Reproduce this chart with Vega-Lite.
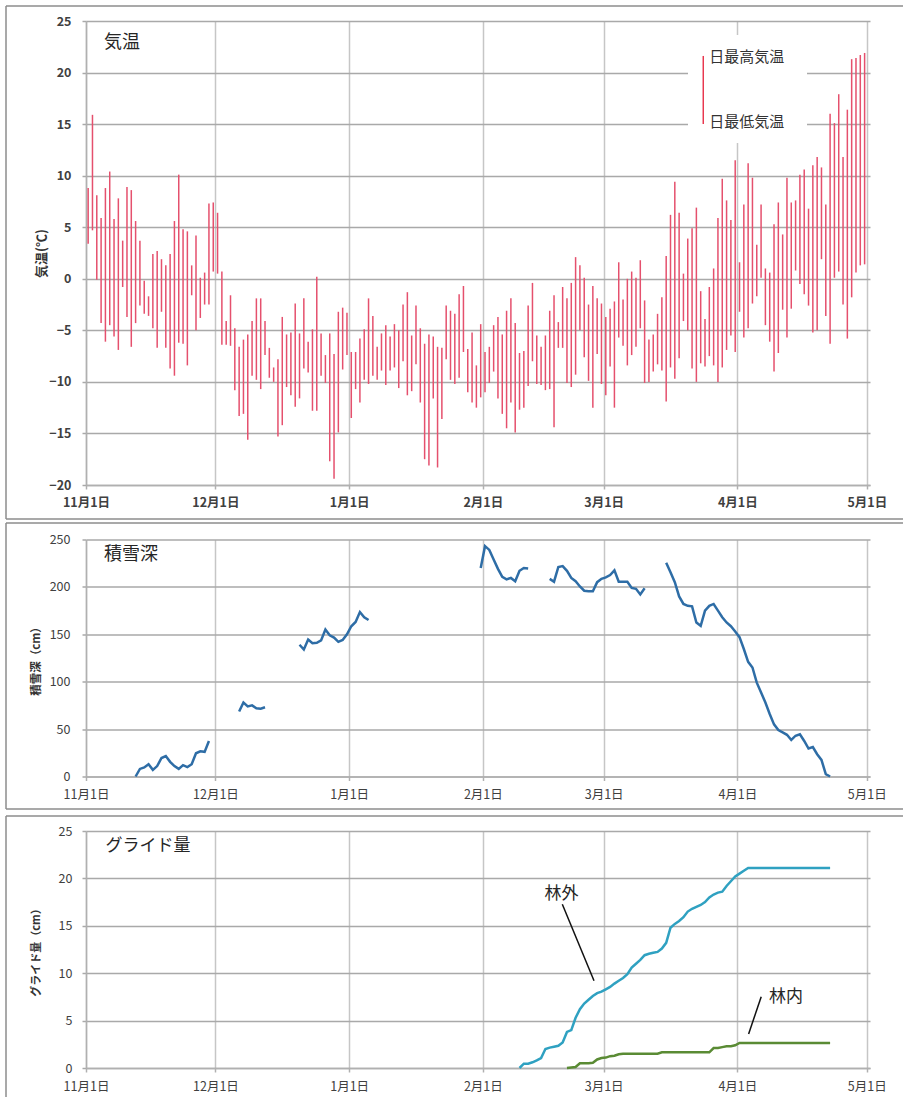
{
"$schema": "https://vega.github.io/schema/vega-lite/v6.json",
"padding": {"left": 5, "top": 5, "right": 0, "bottom": 0},
"background": "white",
"bounds": "flush",
"spacing": 54.5,
"config": {
  "font": "Noto Sans CJK JP",
  "view": {"stroke": null},
  "axis": {"labelFont": "Noto Sans CJK JP", "titleFont": "Noto Sans CJK JP", "labelColor": "#404040", "titleColor": "#333333", "domainColor": "#b0b0b0", "domainWidth": 1.5, "tickColor": "#b0b0b0", "tickSize": 4, "tickWidth": 1.5, "labelFlush": false, "labelOverlap": false, "labelFontSize": 12.5}
},
"datasets": {
  "temp": [
{"date":"2012-11-01","max":8.8,"min":3.4},{"date":"2012-11-02","max":15.9,"min":4.7},{"date":"2012-11-03","max":8.1,"min":-0.1},{"date":"2012-11-04","max":5.9,"min":-4.3},{"date":"2012-11-05","max":8.8,"min":-6.1},{"date":"2012-11-06","max":10.4,"min":-4.5},{"date":"2012-11-07","max":5.8,"min":-5.6},{"date":"2012-11-08","max":7.8,"min":-6.9},{"date":"2012-11-09","max":3.7,"min":-0.8},{"date":"2012-11-10","max":8.9,"min":-3.7},
{"date":"2012-11-11","max":8.6,"min":-6.6},{"date":"2012-11-12","max":5.6,"min":-4.3},{"date":"2012-11-13","max":3.7,"min":-2.6},{"date":"2012-11-14","max":-0.2,"min":-3.4},{"date":"2012-11-15","max":-1.7,"min":-3.6},{"date":"2012-11-16","max":2.4,"min":-4.8},{"date":"2012-11-17","max":2.7,"min":-6.7},{"date":"2012-11-18","max":1.9,"min":-3.2},{"date":"2012-11-19","max":1.3,"min":-6.7},{"date":"2012-11-20","max":2.4,"min":-8.7},
{"date":"2012-11-21","max":5.6,"min":-9.4},{"date":"2012-11-22","max":10.1,"min":-6.2},{"date":"2012-11-23","max":4.8,"min":-6.3},{"date":"2012-11-24","max":4.6,"min":-8.4},{"date":"2012-11-25","max":1.3,"min":-1.6},{"date":"2012-11-26","max":4.2,"min":-5.0},{"date":"2012-11-27","max":0.1,"min":-3.8},{"date":"2012-11-28","max":0.6,"min":-2.5},{"date":"2012-11-29","max":7.3,"min":-2.5},{"date":"2012-11-30","max":7.4,"min":0.7},
{"date":"2012-12-01","max":6.4,"min":0.5},{"date":"2012-12-02","max":0.7,"min":-6.4},{"date":"2012-12-03","max":-4.1,"min":-6.4},{"date":"2012-12-04","max":-1.6,"min":-6.5},{"date":"2012-12-05","max":-4.8,"min":-10.8},{"date":"2012-12-06","max":-6.6,"min":-13.3},{"date":"2012-12-07","max":-5.9,"min":-13.1},{"date":"2012-12-08","max":-5.4,"min":-15.6},{"date":"2012-12-09","max":-4.1,"min":-9.4},{"date":"2012-12-10","max":-1.9,"min":-9.8},
{"date":"2012-12-11","max":-1.9,"min":-10.7},{"date":"2012-12-12","max":-4.1,"min":-7.4},{"date":"2012-12-13","max":-6.7,"min":-9.6},{"date":"2012-12-14","max":-8.6,"min":-10.0},{"date":"2012-12-15","max":-7.8,"min":-15.3},{"date":"2012-12-16","max":-3.7,"min":-14.2},{"date":"2012-12-17","max":-5.4,"min":-10.5},{"date":"2012-12-18","max":-5.2,"min":-11.3},{"date":"2012-12-19","max":-2.4,"min":-12.4},{"date":"2012-12-20","max":-5.3,"min":-11.6},
{"date":"2012-12-21","max":-1.9,"min":-8.7},{"date":"2012-12-22","max":-6.1,"min":-9.1},{"date":"2012-12-23","max":-4.9,"min":-12.8},{"date":"2012-12-24","max":0.2,"min":-12.8},{"date":"2012-12-25","max":-5.3,"min":-9.4},{"date":"2012-12-26","max":-7.4,"min":-10.1},{"date":"2012-12-27","max":-5.3,"min":-17.7},{"date":"2012-12-28","max":-7.3,"min":-19.4},{"date":"2012-12-29","max":-3.2,"min":-14.9},{"date":"2012-12-30","max":-2.8,"min":-8.8},
{"date":"2012-12-31","max":-3.3,"min":-7.4},
{"date":"2013-01-01","max":-7.1,"min":-13.5},{"date":"2013-01-02","max":-7.1,"min":-10.7},{"date":"2013-01-03","max":-5.8,"min":-12.0},{"date":"2013-01-04","max":-4.9,"min":-9.8},{"date":"2013-01-05","max":-1.9,"min":-10.2},{"date":"2013-01-06","max":-3.6,"min":-9.4},{"date":"2013-01-07","max":-6.6,"min":-9.8},{"date":"2013-01-08","max":-5.3,"min":-8.9},{"date":"2013-01-09","max":-4.5,"min":-10.3},{"date":"2013-01-10","max":-5.6,"min":-8.9},
{"date":"2013-01-11","max":-4.4,"min":-8.6},{"date":"2013-01-12","max":-5.0,"min":-10.6},{"date":"2013-01-13","max":-2.5,"min":-8.0},{"date":"2013-01-14","max":-1.3,"min":-11.3},{"date":"2013-01-15","max":-5.5,"min":-10.9},{"date":"2013-01-16","max":-2.6,"min":-8.3},{"date":"2013-01-17","max":-4.8,"min":-12.0},{"date":"2013-01-18","max":-6.3,"min":-17.5},{"date":"2013-01-19","max":-5.4,"min":-18.1},{"date":"2013-01-20","max":-5.6,"min":-11.6},
{"date":"2013-01-21","max":-6.6,"min":-18.3},{"date":"2013-01-22","max":-6.7,"min":-13.6},{"date":"2013-01-23","max":-2.6,"min":-7.8},{"date":"2013-01-24","max":-3.1,"min":-9.8},{"date":"2013-01-25","max":-3.4,"min":-10.2},{"date":"2013-01-26","max":-1.5,"min":-9.6},{"date":"2013-01-27","max":-0.7,"min":-7.1},{"date":"2013-01-28","max":-6.8,"min":-11.0},{"date":"2013-01-29","max":-5.2,"min":-12.0},{"date":"2013-01-30","max":-8.4,"min":-12.5},
{"date":"2013-01-31","max":-4.4,"min":-11.5},
{"date":"2013-02-01","max":-7.1,"min":-11.0},{"date":"2013-02-02","max":-6.6,"min":-10.1},{"date":"2013-02-03","max":-4.5,"min":-9.0},{"date":"2013-02-04","max":-3.7,"min":-11.6},{"date":"2013-02-05","max":-5.4,"min":-13.1},{"date":"2013-02-06","max":-3.1,"min":-14.5},{"date":"2013-02-07","max":-1.9,"min":-12.0},{"date":"2013-02-08","max":-4.3,"min":-14.9},{"date":"2013-02-09","max":-7.2,"min":-12.7},{"date":"2013-02-10","max":-7.0,"min":-12.5},
{"date":"2013-02-11","max":-2.6,"min":-10.4},{"date":"2013-02-12","max":-0.4,"min":-8.0},{"date":"2013-02-13","max":-5.5,"min":-10.2},{"date":"2013-02-14","max":-6.6,"min":-10.3},{"date":"2013-02-15","max":-5.5,"min":-10.8},{"date":"2013-02-16","max":-3.1,"min":-10.7},{"date":"2013-02-17","max":-1.6,"min":-14.4},{"date":"2013-02-18","max":-4.2,"min":-6.7},{"date":"2013-02-19","max":-0.8,"min":-6.7},{"date":"2013-02-20","max":-1.9,"min":-10.1},
{"date":"2013-02-21","max":-0.4,"min":-10.5},{"date":"2013-02-22","max":2.1,"min":-9.3},{"date":"2013-02-23","max":1.3,"min":-5.0},{"date":"2013-02-24","max":0.1,"min":-7.6},{"date":"2013-02-25","max":-2.5,"min":-9.9},{"date":"2013-02-26","max":-0.7,"min":-12.5},{"date":"2013-02-27","max":-1.9,"min":-7.3},{"date":"2013-02-28","max":-2.4,"min":-10.2},
{"date":"2013-03-01","max":-3.7,"min":-11.3},{"date":"2013-03-02","max":-2.9,"min":-8.5},{"date":"2013-03-03","max":-2.2,"min":-12.5},{"date":"2013-03-04","max":1.6,"min":-5.7},{"date":"2013-03-05","max":-2.0,"min":-6.5},{"date":"2013-03-06","max":0.0,"min":-8.4},{"date":"2013-03-07","max":0.7,"min":-7.4},{"date":"2013-03-08","max":0.1,"min":-6.6},{"date":"2013-03-09","max":1.8,"min":-4.8},{"date":"2013-03-10","max":-2.1,"min":-10.1},
{"date":"2013-03-11","max":-5.9,"min":-10.0},{"date":"2013-03-12","max":-5.4,"min":-9.0},{"date":"2013-03-13","max":-3.4,"min":-8.3},{"date":"2013-03-14","max":-1.8,"min":-8.9},{"date":"2013-03-15","max":2.2,"min":-11.9},{"date":"2013-03-16","max":6.2,"min":-8.6},{"date":"2013-03-17","max":9.4,"min":-9.7},{"date":"2013-03-18","max":6.4,"min":-7.7},{"date":"2013-03-19","max":0.5,"min":-4.1},{"date":"2013-03-20","max":3.9,"min":-5.0},
{"date":"2013-03-21","max":4.9,"min":-8.7},{"date":"2013-03-22","max":6.9,"min":-10.0},{"date":"2013-03-23","max":-1.2,"min":-8.2},{"date":"2013-03-24","max":-3.9,"min":-8.5},{"date":"2013-03-25","max":-0.8,"min":-7.5},{"date":"2013-03-26","max":1.0,"min":-8.4},{"date":"2013-03-27","max":5.9,"min":-10.0},{"date":"2013-03-28","max":9.7,"min":-8.6},{"date":"2013-03-29","max":7.6,"min":-6.9},{"date":"2013-03-30","max":5.7,"min":-5.5},
{"date":"2013-03-31","max":11.5,"min":-7.1},
{"date":"2013-04-01","max":1.6,"min":-3.2},{"date":"2013-04-02","max":7.2,"min":-5.7},{"date":"2013-04-03","max":11.2,"min":-4.8},{"date":"2013-04-04","max":9.8,"min":-2.4},{"date":"2013-04-05","max":3.3,"min":-1.7},{"date":"2013-04-06","max":7.2,"min":0.1},{"date":"2013-04-07","max":1.0,"min":-4.5},{"date":"2013-04-08","max":0.6,"min":-6.1},{"date":"2013-04-09","max":5.3,"min":-9.0},{"date":"2013-04-10","max":7.4,"min":-7.2},
{"date":"2013-04-11","max":4.3,"min":-3.0},{"date":"2013-04-12","max":9.8,"min":-5.7},{"date":"2013-04-13","max":7.4,"min":-2.9},{"date":"2013-04-14","max":7.6,"min":0.8},{"date":"2013-04-15","max":10.1,"min":-0.5},{"date":"2013-04-16","max":10.6,"min":-1.5},{"date":"2013-04-17","max":6.8,"min":-2.6},{"date":"2013-04-18","max":11.0,"min":-5.2},{"date":"2013-04-19","max":11.8,"min":-5.0},{"date":"2013-04-20","max":10.8,"min":1.9},
{"date":"2013-04-21","max":7.2,"min":-3.6},{"date":"2013-04-22","max":16.0,"min":-6.3},{"date":"2013-04-23","max":15.1,"min":0.1},{"date":"2013-04-24","max":17.9,"min":0.7},{"date":"2013-04-25","max":11.8,"min":-2.5},{"date":"2013-04-26","max":16.4,"min":-5.8},{"date":"2013-04-27","max":21.3,"min":-1.8},{"date":"2013-04-28","max":21.4,"min":0.6},{"date":"2013-04-29","max":21.7,"min":1.3},{"date":"2013-04-30","max":21.9,"min":1.4}
  ],
  "snow": [
{"date":"2012-11-12","depth":0,"seg":1},{"date":"2012-11-13","depth":8,"seg":1},{"date":"2012-11-14","depth":9.5,"seg":1},{"date":"2012-11-15","depth":13,"seg":1},{"date":"2012-11-16","depth":7,"seg":1},{"date":"2012-11-17","depth":11,"seg":1},{"date":"2012-11-18","depth":19.5,"seg":1},{"date":"2012-11-19","depth":21.5,"seg":1},{"date":"2012-11-20","depth":15.5,"seg":1},{"date":"2012-11-21","depth":11,"seg":1},{"date":"2012-11-22","depth":8,"seg":1},{"date":"2012-11-23","depth":12,"seg":1},{"date":"2012-11-24","depth":10,"seg":1},{"date":"2012-11-25","depth":13,"seg":1},{"date":"2012-11-26","depth":24.5,"seg":1},{"date":"2012-11-27","depth":26.5,"seg":1},{"date":"2012-11-28","depth":26,"seg":1},{"date":"2012-11-29","depth":37.5,"seg":1},
{"date":"2012-12-06","depth":68.5,"seg":2},{"date":"2012-12-07","depth":78,"seg":2},{"date":"2012-12-08","depth":74,"seg":2},{"date":"2012-12-09","depth":75,"seg":2},{"date":"2012-12-10","depth":72,"seg":2},{"date":"2012-12-11","depth":71.5,"seg":2},{"date":"2012-12-12","depth":73,"seg":2},
{"date":"2012-12-20","depth":139,"seg":3},{"date":"2012-12-21","depth":134,"seg":3},{"date":"2012-12-22","depth":144.5,"seg":3},{"date":"2012-12-23","depth":140.5,"seg":3},{"date":"2012-12-24","depth":141,"seg":3},{"date":"2012-12-25","depth":143.5,"seg":3},{"date":"2012-12-26","depth":155,"seg":3},{"date":"2012-12-27","depth":149,"seg":3},{"date":"2012-12-28","depth":146.5,"seg":3},{"date":"2012-12-29","depth":142,"seg":3},{"date":"2012-12-30","depth":144,"seg":3},{"date":"2012-12-31","depth":150,"seg":3},{"date":"2013-01-01","depth":158.5,"seg":3},{"date":"2013-01-02","depth":163,"seg":3},{"date":"2013-01-03","depth":173.5,"seg":3},{"date":"2013-01-04","depth":168,"seg":3},{"date":"2013-01-05","depth":165,"seg":3},
{"date":"2013-01-31","depth":220,"seg":4},{"date":"2013-02-01","depth":243,"seg":4},{"date":"2013-02-02","depth":239,"seg":4},{"date":"2013-02-03","depth":229,"seg":4},{"date":"2013-02-04","depth":219,"seg":4},{"date":"2013-02-05","depth":210.5,"seg":4},{"date":"2013-02-06","depth":208,"seg":4},{"date":"2013-02-07","depth":209.5,"seg":4},{"date":"2013-02-08","depth":206,"seg":4},{"date":"2013-02-09","depth":217,"seg":4},{"date":"2013-02-10","depth":220,"seg":4},{"date":"2013-02-11","depth":219.5,"seg":4},
{"date":"2013-02-16","depth":208.5,"seg":5},{"date":"2013-02-17","depth":205.5,"seg":5},{"date":"2013-02-18","depth":221,"seg":5},{"date":"2013-02-19","depth":222,"seg":5},{"date":"2013-02-20","depth":217,"seg":5},{"date":"2013-02-21","depth":209.5,"seg":5},{"date":"2013-02-22","depth":206,"seg":5},{"date":"2013-02-23","depth":200.5,"seg":5},{"date":"2013-02-24","depth":196,"seg":5},{"date":"2013-02-25","depth":195.5,"seg":5},{"date":"2013-02-26","depth":195.5,"seg":5},{"date":"2013-02-27","depth":205,"seg":5},{"date":"2013-02-28","depth":208.5,"seg":5},{"date":"2013-03-01","depth":210,"seg":5},{"date":"2013-03-02","depth":212.5,"seg":5},{"date":"2013-03-03","depth":217.5,"seg":5},{"date":"2013-03-04","depth":205.5,"seg":5},{"date":"2013-03-05","depth":205.5,"seg":5},{"date":"2013-03-06","depth":205.5,"seg":5},{"date":"2013-03-07","depth":199,"seg":5},{"date":"2013-03-08","depth":198,"seg":5},{"date":"2013-03-09","depth":192,"seg":5},{"date":"2013-03-10","depth":198.5,"seg":5},
{"date":"2013-03-15","depth":225.5,"seg":6},{"date":"2013-03-16","depth":215.5,"seg":6},{"date":"2013-03-17","depth":205,"seg":6},{"date":"2013-03-18","depth":190,"seg":6},{"date":"2013-03-19","depth":182,"seg":6},{"date":"2013-03-20","depth":180,"seg":6},{"date":"2013-03-21","depth":179.5,"seg":6},{"date":"2013-03-22","depth":162.5,"seg":6},{"date":"2013-03-23","depth":159,"seg":6},{"date":"2013-03-24","depth":175,"seg":6},{"date":"2013-03-25","depth":180,"seg":6},{"date":"2013-03-26","depth":182,"seg":6},{"date":"2013-03-27","depth":175,"seg":6},{"date":"2013-03-28","depth":168,"seg":6},{"date":"2013-03-29","depth":162.5,"seg":6},{"date":"2013-03-30","depth":158.5,"seg":6},{"date":"2013-03-31","depth":153,"seg":6},{"date":"2013-04-01","depth":147,"seg":6},{"date":"2013-04-02","depth":134.5,"seg":6},{"date":"2013-04-03","depth":121,"seg":6},{"date":"2013-04-04","depth":115,"seg":6},{"date":"2013-04-05","depth":99,"seg":6},{"date":"2013-04-06","depth":88.5,"seg":6},{"date":"2013-04-07","depth":78,"seg":6},{"date":"2013-04-08","depth":66,"seg":6},{"date":"2013-04-09","depth":55,"seg":6},{"date":"2013-04-10","depth":49,"seg":6},{"date":"2013-04-11","depth":46.5,"seg":6},{"date":"2013-04-12","depth":44,"seg":6},{"date":"2013-04-13","depth":38.5,"seg":6},{"date":"2013-04-14","depth":43,"seg":6},{"date":"2013-04-15","depth":44.5,"seg":6},{"date":"2013-04-16","depth":37.5,"seg":6},{"date":"2013-04-17","depth":29.5,"seg":6},{"date":"2013-04-18","depth":31,"seg":6},{"date":"2013-04-19","depth":23.5,"seg":6},{"date":"2013-04-20","depth":17.5,"seg":6},{"date":"2013-04-21","depth":2.5,"seg":6},{"date":"2013-04-22","depth":0,"seg":6}
  ],
  "glide": [
{"date":"2013-02-09","site":"林外","value":0},{"date":"2013-02-10","site":"林外","value":0.45},{"date":"2013-02-11","site":"林外","value":0.45},{"date":"2013-02-12","site":"林外","value":0.6},{"date":"2013-02-13","site":"林外","value":0.8},{"date":"2013-02-14","site":"林外","value":1.05},{"date":"2013-02-15","site":"林外","value":2.0},{"date":"2013-02-16","site":"林外","value":2.15},{"date":"2013-02-17","site":"林外","value":2.25},{"date":"2013-02-18","site":"林外","value":2.35},{"date":"2013-02-19","site":"林外","value":2.7},{"date":"2013-02-20","site":"林外","value":3.8},{"date":"2013-02-21","site":"林外","value":4.0},{"date":"2013-02-22","site":"林外","value":5.3},{"date":"2013-02-23","site":"林外","value":6.2},{"date":"2013-02-24","site":"林外","value":6.8},{"date":"2013-02-25","site":"林外","value":7.2},{"date":"2013-02-26","site":"林外","value":7.6},{"date":"2013-02-27","site":"林外","value":7.9},{"date":"2013-02-28","site":"林外","value":8.05},
{"date":"2013-03-01","site":"林外","value":8.3},{"date":"2013-03-02","site":"林外","value":8.55},{"date":"2013-03-03","site":"林外","value":8.9},{"date":"2013-03-04","site":"林外","value":9.2},{"date":"2013-03-05","site":"林外","value":9.5},{"date":"2013-03-06","site":"林外","value":9.9},{"date":"2013-03-07","site":"林外","value":10.6},{"date":"2013-03-08","site":"林外","value":11.0},{"date":"2013-03-09","site":"林外","value":11.4},{"date":"2013-03-10","site":"林外","value":11.9},{"date":"2013-03-11","site":"林外","value":12.05},{"date":"2013-03-12","site":"林外","value":12.15},{"date":"2013-03-13","site":"林外","value":12.25},{"date":"2013-03-14","site":"林外","value":12.6},{"date":"2013-03-15","site":"林外","value":13.2},{"date":"2013-03-16","site":"林外","value":14.8},{"date":"2013-03-17","site":"林外","value":15.2},{"date":"2013-03-18","site":"林外","value":15.5},{"date":"2013-03-19","site":"林外","value":15.9},{"date":"2013-03-20","site":"林外","value":16.5},{"date":"2013-03-21","site":"林外","value":16.8},{"date":"2013-03-22","site":"林外","value":17.0},{"date":"2013-03-23","site":"林外","value":17.2},{"date":"2013-03-24","site":"林外","value":17.5},{"date":"2013-03-25","site":"林外","value":18.0},{"date":"2013-03-26","site":"林外","value":18.3},{"date":"2013-03-27","site":"林外","value":18.5},{"date":"2013-03-28","site":"林外","value":18.6},{"date":"2013-03-29","site":"林外","value":19.2},{"date":"2013-03-30","site":"林外","value":19.7},{"date":"2013-03-31","site":"林外","value":20.2},
{"date":"2013-04-01","site":"林外","value":20.5},{"date":"2013-04-02","site":"林外","value":20.8},{"date":"2013-04-03","site":"林外","value":21.1},{"date":"2013-04-04","site":"林外","value":21.1},{"date":"2013-04-05","site":"林外","value":21.1},{"date":"2013-04-06","site":"林外","value":21.1},{"date":"2013-04-07","site":"林外","value":21.1},{"date":"2013-04-08","site":"林外","value":21.1},{"date":"2013-04-09","site":"林外","value":21.1},{"date":"2013-04-10","site":"林外","value":21.1},{"date":"2013-04-11","site":"林外","value":21.1},{"date":"2013-04-12","site":"林外","value":21.1},{"date":"2013-04-13","site":"林外","value":21.1},{"date":"2013-04-14","site":"林外","value":21.1},{"date":"2013-04-15","site":"林外","value":21.1},{"date":"2013-04-16","site":"林外","value":21.1},{"date":"2013-04-17","site":"林外","value":21.1},{"date":"2013-04-18","site":"林外","value":21.1},{"date":"2013-04-19","site":"林外","value":21.1},{"date":"2013-04-20","site":"林外","value":21.1},{"date":"2013-04-21","site":"林外","value":21.1},{"date":"2013-04-22","site":"林外","value":21.1},
{"date":"2013-02-20","site":"林内","value":0},{"date":"2013-02-21","site":"林内","value":0.05},{"date":"2013-02-22","site":"林内","value":0.1},{"date":"2013-02-23","site":"林内","value":0.5},{"date":"2013-02-24","site":"林内","value":0.5},{"date":"2013-02-25","site":"林内","value":0.5},{"date":"2013-02-26","site":"林内","value":0.55},{"date":"2013-02-27","site":"林内","value":0.9},{"date":"2013-02-28","site":"林内","value":1.05},{"date":"2013-03-01","site":"林内","value":1.1},{"date":"2013-03-02","site":"林内","value":1.25},{"date":"2013-03-03","site":"林内","value":1.3},{"date":"2013-03-04","site":"林内","value":1.45},{"date":"2013-03-05","site":"林内","value":1.5},{"date":"2013-03-06","site":"林内","value":1.5},{"date":"2013-03-07","site":"林内","value":1.5},{"date":"2013-03-08","site":"林内","value":1.5},{"date":"2013-03-09","site":"林内","value":1.5},{"date":"2013-03-10","site":"林内","value":1.5},{"date":"2013-03-11","site":"林内","value":1.5},{"date":"2013-03-12","site":"林内","value":1.5},{"date":"2013-03-13","site":"林内","value":1.5},
{"date":"2013-03-14","site":"林内","value":1.65},{"date":"2013-03-15","site":"林内","value":1.65},{"date":"2013-03-16","site":"林内","value":1.65},{"date":"2013-03-17","site":"林内","value":1.65},{"date":"2013-03-18","site":"林内","value":1.65},{"date":"2013-03-19","site":"林内","value":1.65},{"date":"2013-03-20","site":"林内","value":1.65},{"date":"2013-03-21","site":"林内","value":1.65},{"date":"2013-03-22","site":"林内","value":1.65},{"date":"2013-03-23","site":"林内","value":1.65},{"date":"2013-03-24","site":"林内","value":1.65},{"date":"2013-03-25","site":"林内","value":1.65},{"date":"2013-03-26","site":"林内","value":2.1},{"date":"2013-03-27","site":"林内","value":2.1},{"date":"2013-03-28","site":"林内","value":2.2},{"date":"2013-03-29","site":"林内","value":2.3},{"date":"2013-03-30","site":"林内","value":2.3},{"date":"2013-03-31","site":"林内","value":2.4},
{"date":"2013-04-01","site":"林内","value":2.65},{"date":"2013-04-02","site":"林内","value":2.65},{"date":"2013-04-03","site":"林内","value":2.65},{"date":"2013-04-04","site":"林内","value":2.65},{"date":"2013-04-05","site":"林内","value":2.65},{"date":"2013-04-06","site":"林内","value":2.65},{"date":"2013-04-07","site":"林内","value":2.65},{"date":"2013-04-08","site":"林内","value":2.65},{"date":"2013-04-09","site":"林内","value":2.65},{"date":"2013-04-10","site":"林内","value":2.65},{"date":"2013-04-11","site":"林内","value":2.65},{"date":"2013-04-12","site":"林内","value":2.65},{"date":"2013-04-13","site":"林内","value":2.65},{"date":"2013-04-14","site":"林内","value":2.65},{"date":"2013-04-15","site":"林内","value":2.65},{"date":"2013-04-16","site":"林内","value":2.65},{"date":"2013-04-17","site":"林内","value":2.65},{"date":"2013-04-18","site":"林内","value":2.65},{"date":"2013-04-19","site":"林内","value":2.65},{"date":"2013-04-20","site":"林内","value":2.65},{"date":"2013-04-21","site":"林内","value":2.65},{"date":"2013-04-22","site":"林内","value":2.65}
  ]
},
"vconcat": [
{
  "width": 784, "height": 464,
  "layer": [
    {"data": {"values": [{}]}, "mark": {"type": "rule", "color": "#8c8c8c", "strokeWidth": 1.5, "clip": false},
     "encoding": {"x": {"datum": {"year":2012,"month":10,"date":13,"hours":10,"minutes":54,"utc":true}, "type": "temporal", "scale": {"type": "utc"}}, "x2": {"datum": {"year":2013,"month":5,"date":9,"hours":9,"minutes":36,"utc":true}}, "y": {"datum": 26.45, "type": "quantitative"}}},
    {"data": {"values": [{}]}, "mark": {"type": "rule", "color": "#8c8c8c", "strokeWidth": 1.5, "clip": false},
     "encoding": {"x": {"datum": {"year":2012,"month":10,"date":13,"hours":10,"minutes":54,"utc":true}, "type": "temporal", "scale": {"type": "utc"}}, "y": {"datum": 26.45, "type": "quantitative"}, "y2": {"datum": -23.3}}},
    {"data": {"values": [{}]}, "mark": {"type": "rule", "color": "#8c8c8c", "strokeWidth": 1.5, "clip": false},
     "encoding": {"x": {"datum": {"year":2012,"month":10,"date":13,"hours":10,"minutes":54,"utc":true}, "type": "temporal", "scale": {"type": "utc"}}, "x2": {"datum": {"year":2013,"month":5,"date":9,"hours":9,"minutes":36,"utc":true}}, "y": {"datum": -23.3, "type": "quantitative"}}},
    {"data": {"values": [{}]}, "mark": {"type": "rect", "color": "white", "opacity": 1},
     "encoding": {"x": {"datum": {"year":2013,"month":3,"date":20,"hours":13,"minutes":26,"utc":true}, "type": "temporal", "scale": {"type": "utc"}}, "x2": {"datum": {"year":2013,"month":4,"date":17,"hours":3,"minutes":36,"utc":true}}, "y": {"datum": 23.64, "type": "quantitative"}, "y2": {"datum": 13.17}}},
    {"data": {"name": "temp"}, "mark": {"type": "rule", "color": "#e5506d", "strokeWidth": 1.5},
     "encoding": {
       "x": {"field": "date", "timeUnit": "utcyearmonthdate", "type": "temporal", "bandPosition": 0.5,
             "scale": {"type": "utc", "domain": [{"year":2012,"month":11,"date":1,"utc":true}, {"year":2013,"month":5,"date":1,"hours":18,"utc":true}]},
             "axis": {"values": [{"year":2012,"month":11,"date":1,"utc":true},{"year":2012,"month":12,"date":1,"utc":true},{"year":2013,"month":1,"date":1,"utc":true},{"year":2013,"month":2,"date":1,"utc":true},{"year":2013,"month":3,"date":1,"utc":true},{"year":2013,"month":4,"date":1,"utc":true},{"year":2013,"month":5,"date":1,"utc":true}],
                      "format": "%-m月%-d日", "grid": true, "gridColor": "#c6c6c6", "gridWidth": 1.5, "title": null, "labelPadding": 7, "labelFontWeight": "bold"}},
       "y": {"field": "min", "type": "quantitative",
             "scale": {"domain": [-20, 25], "nice": false, "zero": false},
             "axis": {"values": [-20,-15,-10,-5,0,5,10,15,20,25], "grid": true, "gridColor": "#a9a9a9", "gridWidth": 1.5, "tickColor": "#a9a9a9", "labelPadding": 11, "labelFontWeight": "bold", "title": "気温(℃)", "titleFontSize": 13, "titleFontWeight": "bold", "titlePadding": 0}},
       "y2": {"field": "max"}
     }},
    {"data": {"values": [{}]}, "mark": {"type": "rule", "color": "#e8384f", "strokeWidth": 1.5},
     "encoding": {"x": {"datum": {"year":2013,"month":3,"date":24,"hours":2,"minutes":24,"utc":true}, "type": "temporal", "scale": {"type": "utc"}}, "y": {"datum": 21.61, "type": "quantitative"}, "y2": {"datum": 15.01}}},
    {"data": {"values": [{}]}, "mark": {"type": "text", "text": "日最高気温", "align": "left", "baseline": "middle", "fontSize": 15, "color": "#333333", "font": "Noto Sans CJK JP"},
     "encoding": {"x": {"datum": {"year":2013,"month":3,"date":25,"hours":12,"utc":true}, "type": "temporal", "scale": {"type": "utc"}}, "y": {"datum": 21.54, "type": "quantitative"}}},
    {"data": {"values": [{}]}, "mark": {"type": "text", "text": "日最低気温", "align": "left", "baseline": "middle", "fontSize": 15, "color": "#333333", "font": "Noto Sans CJK JP"},
     "encoding": {"x": {"datum": {"year":2013,"month":3,"date":25,"hours":12,"utc":true}, "type": "temporal", "scale": {"type": "utc"}}, "y": {"datum": 15.2, "type": "quantitative"}}},
    {"data": {"values": [{}]}, "mark": {"type": "text", "text": "気温", "align": "left", "baseline": "middle", "fontSize": 18, "color": "#262626", "font": "Noto Sans CJK JP"},
     "encoding": {"x": {"datum": {"year":2012,"month":11,"date":5,"hours":4,"utc":true}, "type": "temporal", "scale": {"type": "utc"}}, "y": {"datum": 22.82, "type": "quantitative"}}}
  ]
},
{
  "width": 784, "height": 237,
  "layer": [
    {"data": {"values": [{}]}, "mark": {"type": "rule", "color": "#8c8c8c", "strokeWidth": 1.5, "clip": false},
     "encoding": {"x": {"datum": {"year":2012,"month":10,"date":13,"hours":10,"minutes":54,"utc":true}, "type": "temporal", "scale": {"type": "utc"}}, "x2": {"datum": {"year":2013,"month":5,"date":9,"hours":9,"minutes":36,"utc":true}}, "y": {"datum": 267.4, "type": "quantitative"}}},
    {"data": {"values": [{}]}, "mark": {"type": "rule", "color": "#8c8c8c", "strokeWidth": 1.5, "clip": false},
     "encoding": {"x": {"datum": {"year":2012,"month":10,"date":13,"hours":10,"minutes":54,"utc":true}, "type": "temporal", "scale": {"type": "utc"}}, "y": {"datum": 267.4, "type": "quantitative"}, "y2": {"datum": -34.3}}},
    {"data": {"values": [{}]}, "mark": {"type": "rule", "color": "#8c8c8c", "strokeWidth": 1.5, "clip": false},
     "encoding": {"x": {"datum": {"year":2012,"month":10,"date":13,"hours":10,"minutes":54,"utc":true}, "type": "temporal", "scale": {"type": "utc"}}, "x2": {"datum": {"year":2013,"month":5,"date":9,"hours":9,"minutes":36,"utc":true}}, "y": {"datum": -34.3, "type": "quantitative"}}},
    {"data": {"name": "snow"}, "mark": {"type": "line", "color": "#2e6da6", "strokeWidth": 2.5},
     "encoding": {
       "x": {"field": "date", "timeUnit": "utcyearmonthdate", "type": "temporal", "bandPosition": 0.5,
             "scale": {"type": "utc", "domain": [{"year":2012,"month":11,"date":1,"utc":true}, {"year":2013,"month":5,"date":1,"hours":18,"utc":true}]},
             "axis": {"values": [{"year":2012,"month":11,"date":1,"utc":true},{"year":2012,"month":12,"date":1,"utc":true},{"year":2013,"month":1,"date":1,"utc":true},{"year":2013,"month":2,"date":1,"utc":true},{"year":2013,"month":3,"date":1,"utc":true},{"year":2013,"month":4,"date":1,"utc":true},{"year":2013,"month":5,"date":1,"utc":true}],
                      "format": "%-m月%-d日", "grid": true, "gridColor": "#c6c6c6", "gridWidth": 1.5, "title": null, "labelPadding": 8}},
       "y": {"field": "depth", "type": "quantitative",
             "scale": {"domain": [0, 250], "nice": false, "zero": false},
             "axis": {"values": [0,50,100,150,200,250], "grid": true, "gridColor": "#a9a9a9", "gridWidth": 1.5, "tickColor": "#a9a9a9", "labelPadding": 12, "title": "積雪深（cm）", "titleFontSize": 11.5, "titleFontWeight": "bold", "titlePadding": 8}},
       "detail": {"field": "seg", "type": "nominal"}
     }},
    {"data": {"values": [{}]}, "mark": {"type": "text", "text": "積雪深", "align": "left", "baseline": "middle", "fontSize": 18, "color": "#262626", "font": "Noto Sans CJK JP"},
     "encoding": {"x": {"datum": {"year":2012,"month":11,"date":5,"hours":4,"utc":true}, "type": "temporal", "scale": {"type": "utc"}}, "y": {"datum": 233.6, "type": "quantitative"}}}
  ]
},
{
  "width": 784, "height": 237,
  "layer": [
    {"data": {"values": [{}]}, "mark": {"type": "rule", "color": "#8c8c8c", "strokeWidth": 1.5, "clip": false},
     "encoding": {"x": {"datum": {"year":2012,"month":10,"date":13,"hours":10,"minutes":54,"utc":true}, "type": "temporal", "scale": {"type": "utc"}}, "x2": {"datum": {"year":2013,"month":5,"date":9,"hours":9,"minutes":36,"utc":true}}, "y": {"datum": 26.58, "type": "quantitative"}}},
    {"data": {"values": [{}]}, "mark": {"type": "rule", "color": "#8c8c8c", "strokeWidth": 1.5, "clip": false},
     "encoding": {"x": {"datum": {"year":2012,"month":10,"date":13,"hours":10,"minutes":54,"utc":true}, "type": "temporal", "scale": {"type": "utc"}}, "y": {"datum": 26.58, "type": "quantitative"}, "y2": {"datum": -3.06}}},
    {"data": {"name": "glide"}, "mark": {"type": "line", "strokeWidth": 2.5},
     "encoding": {
       "x": {"field": "date", "timeUnit": "utcyearmonthdate", "type": "temporal", "bandPosition": 0.5,
             "scale": {"type": "utc", "domain": [{"year":2012,"month":11,"date":1,"utc":true}, {"year":2013,"month":5,"date":1,"hours":18,"utc":true}]},
             "axis": {"values": [{"year":2012,"month":11,"date":1,"utc":true},{"year":2012,"month":12,"date":1,"utc":true},{"year":2013,"month":1,"date":1,"utc":true},{"year":2013,"month":2,"date":1,"utc":true},{"year":2013,"month":3,"date":1,"utc":true},{"year":2013,"month":4,"date":1,"utc":true},{"year":2013,"month":5,"date":1,"utc":true}],
                      "format": "%-m月%-d日", "grid": true, "gridColor": "#c6c6c6", "gridWidth": 1.5, "title": null, "labelPadding": 8}},
       "y": {"field": "value", "type": "quantitative",
             "scale": {"domain": [0, 25], "nice": false, "zero": false},
             "axis": {"values": [0,5,10,15,20,25], "grid": true, "gridColor": "#a9a9a9", "gridWidth": 1.5, "tickColor": "#a9a9a9", "labelPadding": 10, "title": "グライド量（cm）", "titleFontSize": 11, "titleFontWeight": "bold", "titlePadding": 17}},
       "color": {"field": "site", "type": "nominal", "scale": {"domain": ["林外", "林内"], "range": ["#2fa1c1", "#5a8b34"]}, "legend": null}
     }},
    {"data": {"values": [{}]}, "mark": {"type": "rule", "color": "#111111", "strokeWidth": 1.5},
     "encoding": {"x": {"datum": {"year":2013,"month":2,"date":19,"hours":10,"minutes":5,"utc":true}, "type": "temporal", "scale": {"type": "utc"}}, "x2": {"datum": {"year":2013,"month":2,"date":26,"hours":18,"minutes":30,"utc":true}}, "y": {"datum": 17.27, "type": "quantitative"}, "y2": {"datum": 9.21}}},
    {"data": {"values": [{}]}, "mark": {"type": "rule", "color": "#111111", "strokeWidth": 1.5},
     "encoding": {"x": {"datum": {"year":2013,"month":4,"date":6,"hours":12,"minutes":43,"utc":true}, "type": "temporal", "scale": {"type": "utc"}}, "x2": {"datum": {"year":2013,"month":4,"date":3,"hours":14,"minutes":38,"utc":true}}, "y": {"datum": 7.52, "type": "quantitative"}, "y2": {"datum": 3.59}}},
    {"data": {"values": [{}]}, "mark": {"type": "text", "text": "林外", "align": "center", "baseline": "middle", "fontSize": 17, "color": "#262626", "font": "Noto Sans CJK JP"},
     "encoding": {"x": {"datum": {"year":2013,"month":2,"date":19,"hours":5,"minutes":31,"utc":true}, "type": "temporal", "scale": {"type": "utc"}}, "y": {"datum": 18.35, "type": "quantitative"}}},
    {"data": {"values": [{}]}, "mark": {"type": "text", "text": "林内", "align": "center", "baseline": "middle", "fontSize": 17, "color": "#262626", "font": "Noto Sans CJK JP"},
     "encoding": {"x": {"datum": {"year":2013,"month":4,"date":12,"hours":6,"minutes":43,"utc":true}, "type": "temporal", "scale": {"type": "utc"}}, "y": {"datum": 7.54, "type": "quantitative"}}},
    {"data": {"values": [{}]}, "mark": {"type": "text", "text": "グライド量", "align": "left", "baseline": "middle", "fontSize": 17, "color": "#262626", "font": "Noto Sans CJK JP"},
     "encoding": {"x": {"datum": {"year":2012,"month":11,"date":5,"hours":12,"minutes":30,"utc":true}, "type": "temporal", "scale": {"type": "utc"}}, "y": {"datum": 23.37, "type": "quantitative"}}}
  ]
}
]
}
